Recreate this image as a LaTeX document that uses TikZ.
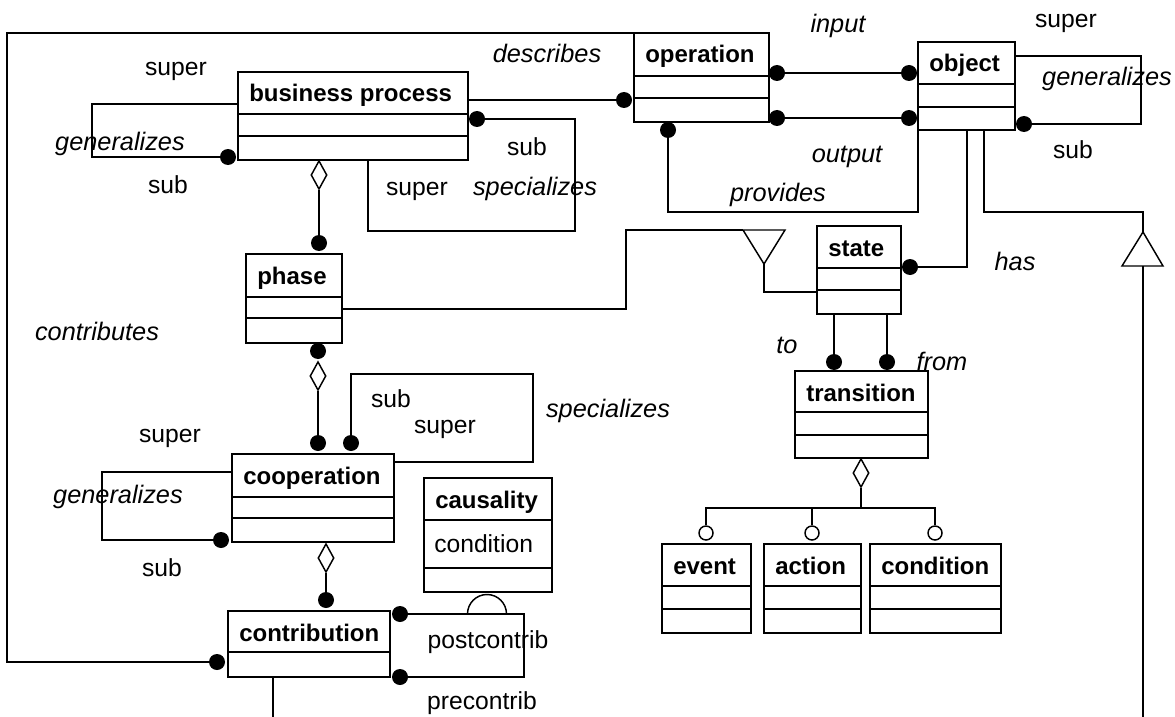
\documentclass[tikz,border=0pt]{standalone}
\usepackage{fontspec}
\setmainfont{Liberation Sans}
\usetikzlibrary{fit,shapes.geometric}

\tikzset{
  conn/.style={line width=1.1pt},
  classbox/.style={draw, line width=1.1pt, inner sep=0pt, outer sep=0pt},
  classtitle/.style={anchor=base west, inner sep=0pt, font=\fontsize{18}{22}\selectfont\bfseries},
  role/.style={anchor=base, inner sep=0pt, font=\fontsize{18.5}{22}\selectfont},
  verb/.style={anchor=base, inner sep=0pt, font=\fontsize{19}{22}\selectfont\itshape},
  dot/.style={circle, fill=black, inner sep=0pt, minimum size=12pt},
  port/.style={circle, draw, fill=white, line width=1.1pt, inner sep=0pt, minimum size=10.5pt},
  agg/.style={diamond, draw, fill=white, line width=1.1pt, inner sep=0pt,
              minimum width=12pt, minimum height=21.5pt},
}

% class box: name, x1, y1, x2, y2, separator rows, title
\newcommand{\umlclass}[7]{%
  \node[classbox, fit={(#2,#3) (#4,#5)}] (#1) {};
  \foreach \s in {#6} {\draw[conn] (#2,\s) -- (#4,\s);}
  \node[classtitle] (#1-t) at (#2+11,#3+30) {#7};
}

\begin{document}
\begin{tikzpicture}[x=0.75pt,y=-0.75pt]
\useasboundingbox (0,0) rectangle (1175,717);

% ---------- classes ----------
\umlclass{bp}{238}{72}{468}{160}{114,136}{business process}
\umlclass{op}{634}{33}{769}{122}{76,98}{operation}
\umlclass{obj}{918}{42}{1015}{130}{84,107}{object}
\umlclass{phase}{246}{254}{342}{343}{297,318}{phase}
\umlclass{state}{817}{226}{901}{314}{268,290}{state}
\umlclass{trans}{795}{371}{928}{458}{412,435}{transition}
\umlclass{coop}{232}{454}{394}{542}{497,518}{cooperation}
\umlclass{caus}{424}{478}{552}{592}{520,568}{causality}
\umlclass{contr}{228}{611}{390}{677}{652}{contribution}
\umlclass{event}{662}{544}{751}{633}{586,609}{event}
\umlclass{action}{764}{544}{861}{633}{586,609}{action}
\umlclass{cond}{870}{544}{1001}{633}{586,609}{condition}
\node[anchor=base west, inner sep=0pt, font=\fontsize{18.5}{22}\selectfont] (caus-a) at (434,552) {condition};

% ---------- association ends ----------
\node[dot] (bp-gen)    at (228,157) {};
\node[dot] (bp-spec)   at (477,119) {};
\node[dot] (op-desc)   at (624,100) {};
\node[dot] (op-in)     at (777,73) {};
\node[dot] (op-out)    at (777,118) {};
\node[dot] (obj-in)    at (909,73) {};
\node[dot] (obj-out)   at (909,118) {};
\node[dot] (op-prov)   at (668,130) {};
\node[dot] (obj-gen)   at (1024,124) {};
\node[dot] (st-has)    at (910,267) {};
\node[dot] (ph-top)    at (319,243) {};
\node[dot] (ph-bot)    at (318,351) {};
\node[dot] (co-part)   at (318,443) {};
\node[dot] (co-spec)   at (351,443) {};
\node[dot] (co-gen)    at (221,540) {};
\node[dot] (ct-part)   at (326,600) {};
\node[dot] (ct-contr)  at (217,662) {};
\node[dot] (ct-post)   at (400,614) {};
\node[dot] (ct-pre)    at (400,677) {};
\node[dot] (tr-to)     at (834,362) {};
\node[dot] (tr-from)   at (887,362) {};

% ---------- aggregation diamonds ----------
\node[agg] (bp-agg) at (319,175) {};
\node[agg] (ph-agg) at (318,376) {};
\node[agg] (co-agg) at (326,558) {};
\node[agg] (tr-agg) at (861,473) {};

% ---------- connectors ----------
% contributes
\coordinate (c-corner) at (7,33);
\draw[conn] (ct-contr) -| (c-corner) -- (op.north west);
% describes
\draw[conn] (bp.east |- op-desc) -- (op-desc);
% business process generalizes / specializes
\draw[conn] (bp.west |- 0,104) -| (92,157) -- (bp-gen);
\draw[conn] (bp.south -| 368,0) |- (575,231) |- (bp-spec);
% input / output
\draw[conn] (op-in) -- (obj-in);
\draw[conn] (op-out) -- (obj-out);
% object generalizes
\draw[conn] (obj.east |- 0,56) -| (1141,124) -- (obj-gen);
% provides
\draw[conn] (op-prov) |- (obj.south west |- 0,212) -- (obj.south west);
% has
\draw[conn] (obj.south -| 967,0) |- (st-has);
% object inheritance leaving the sheet
\coordinate (g1-apex) at (1143,232);
\coordinate (g1-base) at (1143,266);
\coordinate (g1-end)  at (1143,717);
\draw[conn] (obj.south -| 984,0) |- (g1-apex |- 0,212) -- (g1-apex);
\draw[conn, fill=white] (g1-apex) -- (1163,266) -- (1122,266) -- cycle;
\draw[conn] (g1-base) -- (g1-end);
% phase is a state
\coordinate (g2-apex) at (764,264);
\coordinate (g2-l) at (743,230);
\coordinate (g2-r) at (785,230);
\draw[conn] (phase.east |- 0,309) -| (626,230) -- (g2-l);
\draw[conn, fill=white] (g2-l) -- (g2-r) -- (g2-apex) -- cycle;
\draw[conn] (g2-apex) |- (state.west |- 0,292);
% state to / from transition
\draw[conn] (state.south -| tr-to) -- (tr-to);
\draw[conn] (state.south -| tr-from) -- (tr-from);
% aggregations
\draw[conn] (bp-agg.south) -- (ph-top);
\draw[conn] (ph-agg.south) -- (co-part);
\draw[conn] (co-agg.south) -- (ct-part);
% cooperation specializes / generalizes
\draw[conn] (co-spec) |- (533,374) |- (coop.east |- 0,462);
\draw[conn] (coop.west |- 0,472) -| (102,540) -- (co-gen);
% postcontrib / precontrib with causality
\draw[conn] (ct-post) -| (524,677) -- (ct-pre);
\draw[conn] (467.5,614) arc[start angle=180, end angle=360, radius=19.5];
% contribution inheritance leaving the sheet
\coordinate (c-end) at (273,717);
\draw[conn] (contr.south -| c-end) -- (c-end);
% transition parts
\coordinate (tr-j) at (861,508);
\node[port] (p-ev) at (706,533) {};
\node[port] (p-ac) at (812,533) {};
\node[port] (p-co) at (935,533) {};
\draw[conn] (tr-agg.south) -- (tr-j);
\draw[conn] (p-ev) |- (tr-j) -| (p-co);
\draw[conn] (p-ac) -- (p-ac |- tr-j);

% ---------- role names ----------
\node[role] (l1)  at (176,75)  {super};
\node[role] (l2)  at (168,193) {sub};
\node[role] (l3)  at (527,155) {sub};
\node[role] (l4)  at (417,195) {super};
\node[role] (l5)  at (1066,28) {super};
\node[role] (l6)  at (1073,158) {sub};
\node[role] (l7)  at (391,407) {sub};
\node[role] (l8)  at (445,433) {super};
\node[role] (l9)  at (170,442) {super};
\node[role] (l10) at (162,576) {sub};
\node[role] (l11) at (488,648) {postcontrib};
\node[role] (l12) at (482,709) {precontrib};

% ---------- association names ----------
\node[verb] (v1)  at (120,150) {generalizes};
\node[verb] (v2)  at (535,195) {specializes};
\node[verb] (v3)  at (547,63)  {describes};
\node[verb] (v4)  at (838,33)  {input};
\node[verb] (v5)  at (847,162) {output};
\node[verb] (v6)  at (778,201) {provides};
\node[verb] (v7)  at (1107,86) {generalizes};
\node[verb] (v8)  at (1015,270) {has};
\node[verb] (v9)  at (787,353) {to};
\node[verb] (v10) at (942,370) {from};
\node[verb] (v11) at (97,340)  {contributes};
\node[verb] (v12) at (608,417) {specializes};
\node[verb] (v13) at (118,503) {generalizes};
\end{tikzpicture}
\end{document}
